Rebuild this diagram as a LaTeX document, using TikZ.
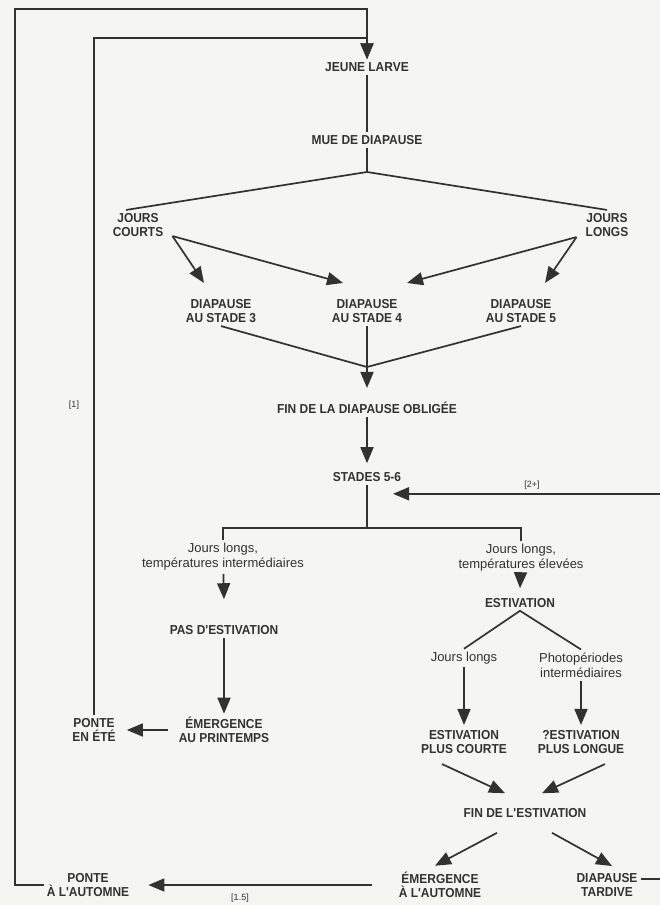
\documentclass[tikz,border=0pt]{standalone}
\usepackage{fontspec}
\setmainfont{Liberation Sans}
\newfontfamily\narrowfont[FakeStretch=0.92]{Liberation Sans}
\usetikzlibrary{arrows.meta}
\definecolor{ink}{RGB}{50,50,50}
\definecolor{paper}{RGB}{245,246,241}
\begin{document}
\begin{tikzpicture}[x=1pt,y=-1pt,
  lab/.style={font=\narrowfont\bfseries\fontsize{13}{14.5}\selectfont, align=center, inner sep=3pt, text=ink},
  txt/.style={font=\fontsize{13}{15}\selectfont, align=center, inner sep=3pt, text=ink},
  tag/.style={font=\fontsize{9}{10}\selectfont, inner sep=1pt, text=ink},
  line/.style={draw=ink, line width=1.7pt},
  arr/.style={line, -{Triangle[length=16pt,width=13pt]}}]
\useasboundingbox (0,0) rectangle (660,905);
\fill[paper] (0,0) rectangle (660,905);
\clip (0,0) rectangle (660,905);
\node[lab] (jl) at (367,67) {JEUNE LARVE};
\node[lab] (mue) at (367,140) {MUE DE DIAPAUSE};
\coordinate (split) at (367,172);
\node[lab] (jc) at (138,225) {JOURS\\COURTS};
\node[lab] (jlg) at (607,225) {JOURS\\LONGS};
\node[lab] (d3) at (221,311) {DIAPAUSE\\AU STADE 3};
\node[lab] (d4) at (367,311) {DIAPAUSE\\AU STADE 4};
\node[lab] (d5) at (521,311) {DIAPAUSE\\AU STADE 5};
\coordinate (merge) at (367,367);
\node[lab] (fin) at (367,408) {FIN DE LA DIAPAUSE OBLIGÉE};
\node[lab] (st) at (367,477) {STADES 5-6};
\coordinate (bar) at (367,528);
\node[txt] (ti) at (223,557) {Jours longs,\\températures intermédiaires};
\node[txt] (te) at (521,558) {Jours longs,\\températures élevées};
\node[lab] (pas) at (224,630) {PAS D'ESTIVATION};
\node[lab] (emp) at (224,730) {ÉMERGENCE\\AU PRINTEMPS};
\node[lab] (pe) at (94,730) {PONTE\\EN ÉTÉ};
\node[lab] (est) at (520,603) {ESTIVATION};
\node[txt] (jl2) at (464,658) {Jours longs};
\node[txt] (ph) at (581,665) {Photopériodes\\intermédiaires};
\node[lab] (epc) at (464,742) {ESTIVATION\\PLUS COURTE};
\node[lab] (epl) at (581,742) {?ESTIVATION\\PLUS LONGUE};
\node[lab] (fe) at (525,813) {FIN DE L'ESTIVATION};
\node[lab] (ea) at (440,885) {ÉMERGENCE\\À L'AUTOMNE};
\node[lab] (dt) at (607,885) {DIAPAUSE\\TARDIVE};
\node[lab] (pa) at (88,885) {PONTE\\À L'AUTOMNE};
\node[tag] (t1) at (74,405) {[1]};
\node[tag] (t2) at (532,485) {[2+]};
\node[tag] (t15) at (240,898) {[1.5]};
\coordinate (outer) at (15,9);
\coordinate (inner) at (94,38);
\draw[arr] (pa.west) -| (outer) -| (jl.north);
\draw[arr] (pe.north) -- (inner) -| (jl.north);
\draw[line] (jl) -- (mue);
\draw[line] (mue) -- (split);
\draw[line] ([xshift=-12pt]jc.north) -- (split) -- (jlg.north);
\draw[arr] ([shift={(6pt,4pt)}]jc.south east) -- ([shift={(-17pt,13pt)}]d3.north);
\draw[arr] ([shift={(6pt,4pt)}]jc.south east) -- ([shift={(-24pt,13pt)}]d4.north);
\draw[arr] ([shift={(-6pt,3pt)}]jlg.south west) -- ([shift={(40pt,13pt)}]d4.north);
\draw[arr] ([shift={(-6pt,3pt)}]jlg.south west) -- ([shift={(24pt,13pt)}]d5.north);
\draw[line] (d3.south) -- (merge) -- (d5.south);
\draw[arr] (d4.south) -- (merge) -- ([yshift=11pt]fin.north);
\draw[arr] (fin) -- ([yshift=6pt]st.north);
\draw[line] (st) -- (bar);
\draw[line] (ti.north) |- (bar) -| (te.north);
\draw[arr] (ti) -- ([yshift=23pt]pas.north);
\draw[arr] (pas) -- (emp.north);
\draw[arr] ([xshift=-8pt]emp.west) -- ([xshift=8pt]pe.east);
\draw[arr] (te) -- ([yshift=7pt]est.north);
\draw[line] (jl2.north) -- (est.south) -- (ph.north);
\draw[arr] (jl2) -- ([yshift=2pt]epc.north);
\draw[arr] (ph) -- ([yshift=2pt]epl.north);
\draw[arr] ([shift={(-22pt,-7pt)}]epc.south) -- ([shift={(-20pt,12pt)}]fe.north);
\draw[arr] ([shift={(24pt,-7pt)}]epl.south) -- ([shift={(17pt,12pt)}]fe.north);
\draw[arr] ([shift={(-28pt,-12pt)}]fe.south) -- ([shift={(-5pt,3pt)}]ea.north);
\draw[arr] ([shift={(27pt,-12pt)}]fe.south) -- ([shift={(5pt,4pt)}]dt.north);
\draw[arr] ([xshift=-24pt]ea.west) -- ([xshift=16pt]pa.east);
\draw[arr] ([yshift=6pt]dt.east) -- ++(40pt,0pt) |- ([shift={(26pt,-9pt)}]st.south);
\end{tikzpicture}
\end{document}
